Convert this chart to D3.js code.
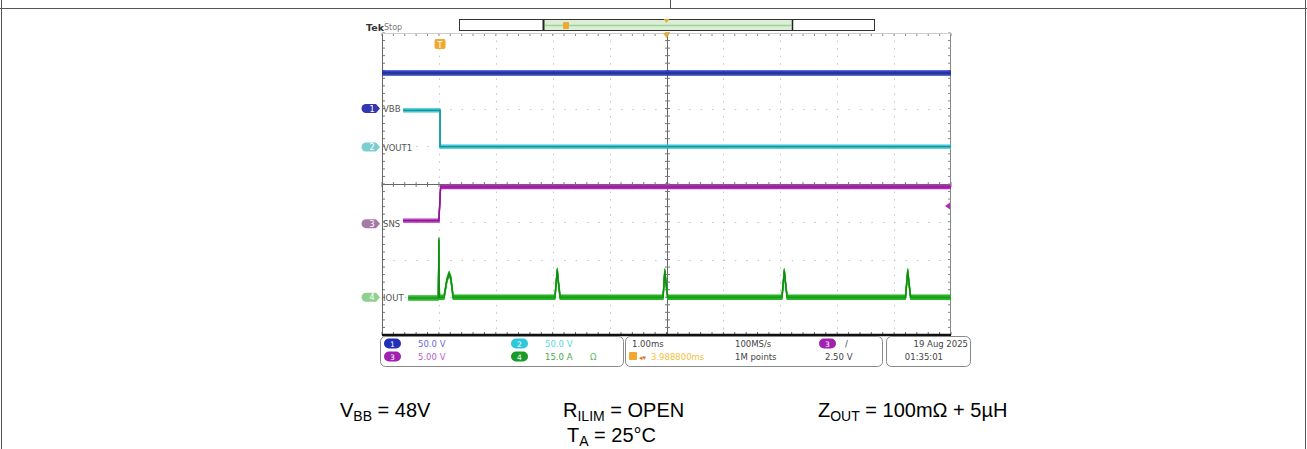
<!DOCTYPE html>
<html><head><meta charset="utf-8">
<script src="https://cdn.jsdelivr.net/npm/d3@7"></script>
<style>html,body{margin:0;padding:0;background:#fff;}svg{display:block;}</style>
</head><body>
<script>
// ---- data (time in ms = horizontal divisions, level in vertical divisions) ----
const ch1Time = [0.0, 10.0];
const ch1Level = [2.94, 2.94];
const ch2Time = [0.37, 1.02, 1.02, 10.0];
const ch2Level = [1.95, 1.95, 0.99, 0.99];
const ch3Time = [0.37, 1.0, 1.03, 10.0];
const ch3Level = [-0.97, -0.97, -0.08, -0.08];
const ch4Time = [0.46, 0.99, 1.0, 1.01, 1.09, 1.14, 1.18, 1.21, 1.25, 3.04, 3.08, 3.1, 3.13, 4.94, 4.97, 4.99, 5.02, 7.03, 7.07, 7.09, 7.12, 9.2, 9.24, 9.26, 9.29, 10.0];
const ch4Level = [-3.02, -3.02, -1.48, -3.0, -3.0, -2.55, -2.37, -2.5, -3.0, -3.0, -2.28, -2.6, -3.0, -3.0, -2.3, -2.6, -3.0, -3.0, -2.3, -2.6, -3.0, -3.0, -2.3, -2.6, -3.0, -3.0];
const channelNames = ["VBB", "VOUT1", "SNS", "IOUT"];
const channelMarkerLevel = [2.0, 0.98, -1.05, -3.0];
const channelScales = ["50.0 V", "50.0 V", "5.00 V", "15.0 A"];
const timebase = ["1.00ms", "3.988800ms", "100MS/s", "1M points", "2.50 V"];
const dateText = ["19 Aug 2025", "01:35:01"];
const triggerLevel = -0.58;
const triggerTime = 1.02;
const captions = [
  {main: "V", sub: "BB", rest: " = 48V"},
  {main: "R", sub: "ILIM", rest: " = OPEN"},
  {main: "Z", sub: "OUT", rest: " = 100mΩ + 5µH"},
  {main: "T", sub: "A", rest: " = 25°C"}
];

const W = 1307, H = 449;
const svg = d3.select("body").append("svg").attr("width", W).attr("height", H);

// page frame
svg.append("line").attr("x1", 0).attr("x2", W).attr("y1", 8.5).attr("y2", 8.5).attr("stroke", "#555");
svg.append("line").attr("x1", 670.5).attr("x2", 670.5).attr("y1", 0).attr("y2", 8).attr("stroke", "#555");
svg.append("line").attr("x1", 1.5).attr("x2", 1.5).attr("y1", 0).attr("y2", H).attr("stroke", "#555");
svg.append("line").attr("x1", 1305.5).attr("x2", 1305.5).attr("y1", 0).attr("y2", H).attr("stroke", "#555");

const x = d3.scaleLinear().domain([0, 10]).range([382, 951]);
const y = d3.scaleLinear().domain([-4, 4]).range([335, 33]);

const g = svg.append("g");
// dotted graticule
const mono = "DejaVu Sans, sans-serif";
d3.range(1, 10).filter(d => d !== 5).forEach(d => {
  g.append("line").attr("x1", Math.round(x(d)) + 0.5).attr("x2", Math.round(x(d)) + 0.5)
    .attr("y1", y(4)).attr("y2", y(-4)).attr("stroke", "#c4c4c4").attr("stroke-width", 1)
    .attr("stroke-dasharray", "1.5,6.05");
});
d3.range(-3, 4).filter(d => d !== 0).forEach(d => {
  g.append("line").attr("y1", Math.round(y(d)) + 0.5).attr("y2", Math.round(y(d)) + 0.5)
    .attr("x1", x(0)).attr("x2", x(10)).attr("stroke", "#c4c4c4").attr("stroke-width", 1)
    .attr("stroke-dasharray", "1.5,9.88");
});
// center crosshair with ticks
const cx = Math.round(x(5)) + 0.5, cy = Math.round(y(0)) + 0.5;
g.append("line").attr("x1", cx).attr("x2", cx).attr("y1", y(4)).attr("y2", y(-4)).attr("stroke", "#666");
g.append("line").attr("x1", x(0)).attr("x2", x(10)).attr("y1", cy).attr("y2", cy).attr("stroke", "#666");
d3.range(0, 50.01, 1).forEach(i => {
  const xv = x(i / 5);
  g.append("line").attr("x1", xv).attr("x2", xv).attr("y1", cy - 2.5).attr("y2", cy + 2.5).attr("stroke", "#777");
  g.append("line").attr("x1", xv).attr("x2", xv).attr("y1", y(4)).attr("y2", y(4) + 3).attr("stroke", "#888");
  g.append("line").attr("x1", xv).attr("x2", xv).attr("y1", y(-4)).attr("y2", y(-4) - 3).attr("stroke", "#666");
});
d3.range(0, 40.01, 1).forEach(i => {
  const yv = y(-4 + i / 5);
  g.append("line").attr("y1", yv).attr("y2", yv).attr("x1", cx - 2.5).attr("x2", cx + 2.5).attr("stroke", "#777");
  g.append("line").attr("y1", yv).attr("y2", yv).attr("x1", x(0)).attr("x2", x(0) + 3).attr("stroke", "#777");
  g.append("line").attr("y1", yv).attr("y2", yv).attr("x1", x(10)).attr("x2", x(10) - 3).attr("stroke", "#888");
});
// frame
g.append("line").attr("x1", x(0) + 0.5).attr("x2", x(0) + 0.5).attr("y1", y(4)).attr("y2", y(-4)).attr("stroke", "#666");
g.append("line").attr("x1", x(10) - 0.5).attr("x2", x(10) - 0.5).attr("y1", y(4)).attr("y2", y(-4)).attr("stroke", "#888");
g.append("line").attr("x1", x(0)).attr("x2", x(10)).attr("y1", y(4) + 0.5).attr("y2", y(4) + 0.5).attr("stroke", "#ccc");
g.append("line").attr("x1", x(0)).attr("x2", x(10)).attr("y1", y(-4)).attr("y2", y(-4)).attr("stroke", "#111").attr("stroke-width", 2.5);

// traces
const line = d3.line().x(d => x(d[0])).y(d => y(d[1]));
function trace(ts, vs, color, core, offsets) {
  const pts = ts.map((t, i) => [t, vs[i]]);
  offsets.forEach(o => {
    g.append("path").attr("d", line(pts)).attr("transform", `translate(0,${o})`)
      .attr("fill", "none").attr("stroke", color).attr("stroke-width", 1.3).attr("stroke-linejoin", "round");
  });
  g.append("path").attr("d", line(pts)).attr("fill", "none").attr("stroke", core).attr("stroke-width", 1.2);
}
trace(ch1Time, ch1Level, "#2a3ab8", "#14208a", [-2, -1, 0, 1, 2]);
trace(ch2Time, ch2Level, "#2cc0cc", "#178f9c", [-1.5, -0.5, 0.5, 1.5]);
trace(ch3Time, ch3Level, "#b42ab8", "#8a1690", [-1.5, -0.5, 0.5, 1.5]);
trace(ch4Time, ch4Level, "#24b424", "#128a12", [-2, -1, 0, 1, 2]);

// channel markers on left
const markerColors = ["#3438b0", "#7ccdd0", "#a67aa8", "#8fd08f"];
channelMarkerLevel.forEach((lv, i) => {
  const yy = y(lv);
  g.append("path").attr("d", `M366,${yy - 4.5} h10 l4,4.5 l-4,4.5 h-10 a4.5,4.5 0 0 1 0,-9 z`).attr("fill", markerColors[i]);
  g.append("text").attr("x", 372).attr("y", yy + 3).attr("font-family", mono).attr("font-size", 8)
    .attr("fill", "#fff").attr("text-anchor", "middle").text(i + 1);
  g.append("text").attr("x", 383).attr("y", yy + 3.5).attr("font-family", mono).attr("font-size", 8.5)
    .attr("fill", "#555").text(channelNames[i]);
});

// trigger markers
const tx = x(triggerTime);
g.append("rect").attr("x", tx - 5.5).attr("y", 39).attr("width", 11).attr("height", 10).attr("rx", 2).attr("fill", "#f0a830");
g.append("text").attr("x", tx).attr("y", 47.5).attr("text-anchor", "middle").attr("font-family", mono).attr("font-size", 8).attr("fill", "#fff").text("T");
g.append("path").attr("d", `M${x(5) - 3.5},${y(4)} h7 l-3.5,5 z`).attr("fill", "#f0a830");
g.append("path").attr("d", `M${x(10) - 1},${y(triggerLevel) - 3.5} v7 l-5,-3.5 z`).attr("fill", "#b42ab8");

// header
svg.append("text").attr("x", 366).attr("y", 31).attr("font-family", mono).attr("font-weight", "bold").attr("font-size", 9.5).attr("fill", "#333").text("Tek");
svg.append("text").attr("x", 384).attr("y", 30).attr("font-family", mono).attr("font-size", 8).attr("fill", "#777").text("Stop");
svg.append("rect").attr("x", 459.5).attr("y", 19.5).attr("width", 415).attr("height", 11).attr("fill", "#fff").attr("stroke", "#333");
svg.append("rect").attr("x", 543.5).attr("y", 20).attr("width", 249).attr("height", 10).attr("fill", "#dcefd6");
svg.append("line").attr("x1", 545).attr("x2", 791).attr("y1", 25.5).attr("y2", 25.5).attr("stroke", "#9fd39a").attr("stroke-width", 1.5);
svg.append("line").attr("x1", 543.5).attr("x2", 543.5).attr("y1", 19.5).attr("y2", 30.5).attr("stroke", "#222").attr("stroke-width", 2);
svg.append("line").attr("x1", 792.5).attr("x2", 792.5).attr("y1", 19.5).attr("y2", 30.5).attr("stroke", "#222").attr("stroke-width", 1.5);
svg.append("rect").attr("x", 563).attr("y", 22).attr("width", 6).attr("height", 7).attr("rx", 1).attr("fill", "#f0a830");
svg.append("path").attr("d", `M${x(5) - 3},19 h6 l-3,4 z`).attr("fill", "#f0a830");

// status bar
const sb = svg.append("g").attr("font-family", mono).attr("font-size", 8.5);
sb.append("rect").attr("x", 380.5).attr("y", 336.5).attr("width", 243).attr("height", 30).attr("rx", 5).attr("fill", "none").attr("stroke", "#888");
sb.append("rect").attr("x", 625.5).attr("y", 336.5).attr("width", 257).attr("height", 30).attr("rx", 5).attr("fill", "none").attr("stroke", "#888");
sb.append("rect").attr("x", 886.5).attr("y", 336.5).attr("width", 84).attr("height", 30).attr("rx", 5).attr("fill", "none").attr("stroke", "#888");
function badge(bx, by, color, label) {
  sb.append("rect").attr("x", bx).attr("y", by).attr("width", 17).attr("height", 10).attr("rx", 5).attr("fill", color);
  sb.append("text").attr("x", bx + 8.5).attr("y", by + 8).attr("text-anchor", "middle").attr("font-size", 7.5).attr("fill", "#fff").text(label);
}
badge(384, 338.5, "#2030b8", "1");
badge(384, 351.5, "#a020b0", "3");
badge(511, 338.5, "#30c8d8", "2");
badge(511, 351.5, "#1a9a2a", "4");
sb.append("text").attr("x", 418).attr("y", 347).attr("fill", "#6a6ad8").text(channelScales[0]);
sb.append("text").attr("x", 418).attr("y", 360).attr("fill", "#b860c8").text(channelScales[2]);
sb.append("text").attr("x", 545).attr("y", 347).attr("fill", "#58d6e4").text(channelScales[1]);
sb.append("text").attr("x", 545).attr("y", 360).attr("fill", "#4aa84a").text(channelScales[3]);
sb.append("text").attr("x", 590).attr("y", 360).attr("fill", "#60b860").text("Ω");
sb.append("text").attr("x", 632).attr("y", 347).attr("fill", "#444").text(timebase[0]);
sb.append("rect").attr("x", 629).attr("y", 352).attr("width", 8).attr("height", 8).attr("rx", 1).attr("fill", "#f0a830");
sb.append("text").attr("x", 639).attr("y", 360).attr("fill", "#e07020").attr("font-size", 7).text("◂▾");
sb.append("text").attr("x", 651).attr("y", 360).attr("fill", "#f2c040").text(timebase[1]);
sb.append("text").attr("x", 735).attr("y", 347).attr("fill", "#444").text(timebase[2]);
sb.append("text").attr("x", 735).attr("y", 360).attr("fill", "#444").text(timebase[3]);
badge(819, 338.5, "#a020b0", "3");
sb.append("text").attr("x", 845).attr("y", 347).attr("fill", "#444").text("/");
sb.append("text").attr("x", 825).attr("y", 360).attr("fill", "#444").text(timebase[4]);
sb.append("text").attr("x", 968).attr("y", 347).attr("text-anchor", "end").attr("fill", "#444").text(dateText[0]);
sb.append("text").attr("x", 943).attr("y", 360).attr("text-anchor", "end").attr("fill", "#444").text(dateText[1]);

// captions
const capPos = [[340, 417], [563, 417], [818, 417], [567, 442]];
captions.forEach((c, i) => {
  const t = svg.append("text").attr("x", capPos[i][0]).attr("y", capPos[i][1])
    .attr("font-family", "Liberation Sans, Arial, sans-serif").attr("font-size", 20).attr("fill", "#000");
  t.append("tspan").text(c.main);
  t.append("tspan").attr("font-size", 14).attr("dy", 3.5).text(c.sub);
  t.append("tspan").attr("dy", -3.5).text(c.rest);
});
</script>
</body></html>
